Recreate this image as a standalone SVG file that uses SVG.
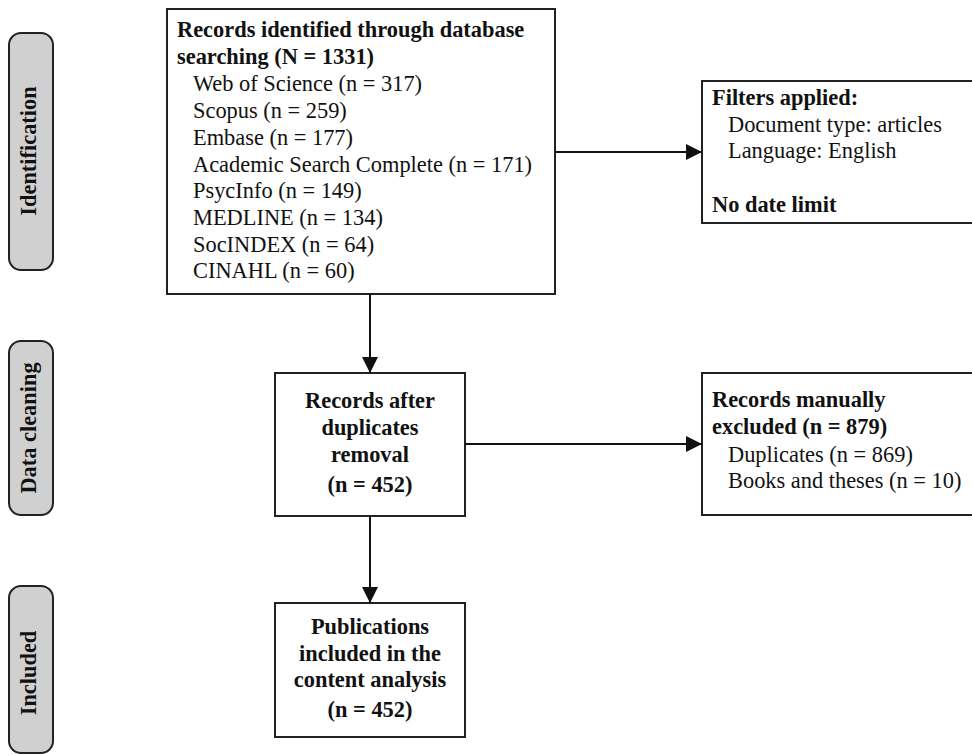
<svg xmlns="http://www.w3.org/2000/svg" width="972" height="755" viewBox="0 0 972 755">
  <defs>
    <marker id="arrow" markerUnits="userSpaceOnUse" markerWidth="16" markerHeight="16" viewBox="0 0 14 14" refX="14" refY="7" orient="auto">
      <path d="M0,0 L14,7 L0,14 Z" fill="#111"/>
    </marker>
  </defs>
  <style>
    .box { fill: #ffffff; stroke: #222222; stroke-width: 2; }
    .pill { fill: #d0d0d0; stroke: #222222; stroke-width: 2; }
    .b { font-family: "Liberation Serif", "Times New Roman", serif; font-weight: bold; font-size: 22.4px; fill: #111; }
    .n { font-family: "Liberation Serif", "Times New Roman", serif; font-size: 22.4px; fill: #111; }
    .c { text-anchor: middle; }
    .conn { stroke: #111; stroke-width: 2; fill: none; marker-end: url(#arrow); }
  </style>
  <rect width="972" height="755" fill="#ffffff"/>

  <g id="stage-identification">
    <rect class="pill" x="9" y="33" width="44" height="237" rx="12" ry="12"/>
    <text class="b c" transform="translate(36,151) rotate(-90)">Identification</text>
  </g>
  <g id="stage-data-cleaning">
    <rect class="pill" x="9" y="341" width="44" height="174" rx="12" ry="12"/>
    <text class="b c" transform="translate(36,428) rotate(-90)">Data cleaning</text>
  </g>
  <g id="stage-included">
    <rect class="pill" x="9" y="586" width="44" height="167" rx="12" ry="12"/>
    <text class="b c" transform="translate(36,673) rotate(-90)">Included</text>
  </g>

  <g id="records-identified">
    <rect class="box" x="167" y="9" width="388" height="285"/>
    <text class="b" x="177" y="37">Records identified through database</text>
    <text class="b" x="177" y="64">searching (N = 1331)</text>
    <text class="n" x="193" y="91">Web of Science (n = 317)</text>
    <text class="n" x="193" y="118">Scopus (n = 259)</text>
    <text class="n" x="193" y="145">Embase (n = 177)</text>
    <text class="n" x="193" y="172">Academic Search Complete (n = 171)</text>
    <text class="n" x="193" y="198">PsycInfo (n = 149)</text>
    <text class="n" x="193" y="225">MEDLINE (n = 134)</text>
    <text class="n" x="193" y="252">SocINDEX (n = 64)</text>
    <text class="n" x="193" y="278">CINAHL (n = 60)</text>
  </g>

  <g id="filters">
    <rect class="box" x="702" y="81" width="280" height="142"/>
    <text class="b" x="712" y="105">Filters applied:</text>
    <text class="n" x="728" y="132">Document type: articles</text>
    <text class="n" x="728" y="158">Language: English</text>
    <text class="b" x="712" y="212">No date limit</text>
  </g>

  <g id="after-duplicates">
    <rect class="box" x="275" y="373" width="190" height="143"/>
    <text class="b c" x="370" y="408">Records after</text>
    <text class="b c" x="370" y="435">duplicates</text>
    <text class="b c" x="370" y="462">removal</text>
    <text class="b c" x="370" y="492">(n = 452)</text>
  </g>

  <g id="manually-excluded">
    <rect class="box" x="702" y="373" width="280" height="142"/>
    <text class="b" x="712" y="407">Records manually</text>
    <text class="b" x="712" y="434">excluded (n = 879)</text>
    <text class="n" x="728" y="462">Duplicates (n = 869)</text>
    <text class="n" x="728" y="488">Books and theses (n = 10)</text>
  </g>

  <g id="publications-included">
    <rect class="box" x="275" y="603" width="190" height="134"/>
    <text class="b c" x="370" y="634">Publications</text>
    <text class="b c" x="370" y="661">included in the</text>
    <text class="b c" x="370" y="687">content analysis</text>
    <text class="b c" x="370" y="717">(n = 452)</text>
  </g>

  <g id="connectors">
    <line class="conn" x1="555" y1="152" x2="702" y2="152"/>
    <line class="conn" x1="370" y1="294" x2="370" y2="373"/>
    <line class="conn" x1="465" y1="444" x2="702" y2="444"/>
    <line class="conn" x1="370" y1="516" x2="370" y2="603"/>
  </g>
</svg>
